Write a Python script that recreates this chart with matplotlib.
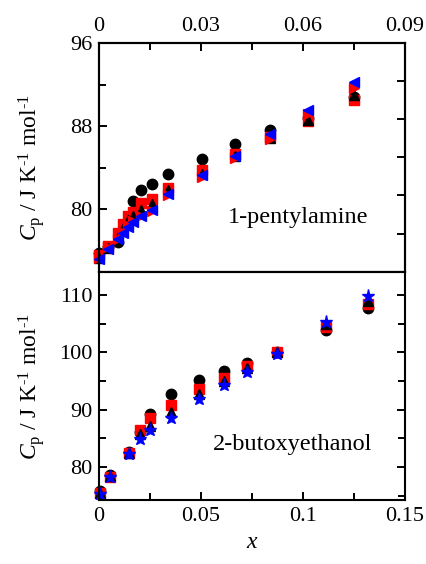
import matplotlib
matplotlib.use("Agg")
import matplotlib.pyplot as plt
from matplotlib.ticker import MultipleLocator, NullFormatter

# 1-pentylamine (top panel)
x_amine = [0, 0.0027, 0.0055, 0.0070, 0.0085, 0.0099, 0.0123, 0.0155, 0.0202,
           0.0304, 0.0401, 0.0503, 0.0615, 0.0751]
x_amine_circ = [0, 0.0027, 0.0055, 0.0099, 0.0123, 0.0155, 0.0202,
                0.0304, 0.0401, 0.0503, 0.0615, 0.0751]
cp_amine_circ = [75.7, 76.3, 76.8, 80.8, 81.8, 82.4, 83.4,
                 84.85, 86.3, 87.6, 88.8, 90.8]
cp_amine_sq = [75.5, 76.4, 77.7, 78.5, 79.3, 79.75, 80.55, 81.0, 82.0,
               83.8, 85.3, 87.0, 88.5, 90.5]
cp_amine_tri = [75.3, 76.2, 77.3, 78.2, 78.9, 79.3, 79.9, 80.5, 81.8,
                83.4, 85.1, 86.9, 88.6, 91.0]
cp_amine_right = [75.3, 76.3, 77.1, 77.8, 78.4, 78.8, 79.3, 79.8, 81.3,
                  83.1, 84.9, 86.8, 89.2, 91.7]
cp_amine_left = [75.2, 76.1, 77.1, 77.7, 78.3, 78.7, 79.3, 79.9, 81.4,
                 83.3, 85.1, 87.2, 89.6, 92.3]

# 2-butoxyethanol (bottom panel)
x_bute = [0.0005, 0.0054, 0.0149, 0.0202, 0.0251, 0.0354, 0.0492, 0.0615,
          0.0727, 0.0871, 0.1113, 0.1320]
cp_bute_circ = [75.8, 78.7, 82.6, 86.1, 89.3, 92.8, 95.25, 96.7, 98.15, 100.0, 103.9, 107.8]
cp_bute_sq = [75.5, 78.3, 82.4, 86.4, 88.5, 90.75, 93.7, 95.6, 97.6, 100.0, 104.4, 108.4]
cp_bute_tri = [75.5, 78.4, 82.4, 85.8, 87.25, 89.6, 92.7, 95.1, 97.3, 100.0, 104.9, 109.0]
cp_bute_star = [75.3, 78.3, 82.3, 84.9, 86.5, 88.6, 91.9, 94.4, 96.6, 99.8, 105.3, 109.8]

plt.rcParams["font.family"] = "Liberation Serif"
plt.rcParams["mathtext.fontset"] = "custom"
plt.rcParams["mathtext.rm"] = "Liberation Serif"
plt.rcParams["mathtext.it"] = "Liberation Serif:italic"
plt.rcParams["font.size"] = 16

fig = plt.figure(figsize=(4.27, 5.64), dpi=100)
ax1 = fig.add_axes([0.232, 0.5177, 0.716, 0.4053])
ax2 = fig.add_axes([0.232, 0.1126, 0.716, 0.4051])

ms = 7.5
kw = dict(linestyle="none", clip_on=False)
ax1.plot(x_amine_circ, cp_amine_circ, marker="o", color="black", markersize=ms, **kw)
ax1.plot(x_amine, cp_amine_sq, marker="s", color="red", markersize=ms, **kw)
ax1.plot(x_amine, cp_amine_tri, marker="^", color="black", markersize=ms - 1, **kw)
ax1.plot(x_amine, cp_amine_right, marker=">", color="red", markersize=ms, **kw)
ax1.plot(x_amine, cp_amine_left, marker="<", color="blue", markersize=ms, **kw)

ax2.plot(x_bute, cp_bute_circ, marker="o", color="black", markersize=ms, **kw)
ax2.plot(x_bute, cp_bute_sq, marker="s", color="red", markersize=ms, **kw)
ax2.plot(x_bute, cp_bute_tri, marker="^", color="black", markersize=ms, **kw)
ax2.plot(x_bute, cp_bute_star, marker="*", color="blue", markersize=ms + 2, **kw)

ylabel = r"$C_\mathrm{p}$ / J K$^{\text{-1}}$ mol$^{\text{-1}}$"

for ax in (ax1, ax2):
    for sp in ax.spines.values():
        sp.set_linewidth(1.5)
    ax.tick_params(which="both", direction="in", width=1.4, pad=5)
    ax.tick_params(which="major", length=6)
    ax.tick_params(which="minor", length=5)

# top panel
ax1.set_xlim(0, 0.09)
ax1.set_ylim(73.9, 96)
ax1.xaxis.set_major_locator(MultipleLocator(0.03))
ax1.xaxis.set_minor_locator(MultipleLocator(0.015))
ax1.xaxis.set_major_formatter(lambda v, p: "0" if v == 0 else f"{v:.2f}")
ax1.yaxis.set_major_locator(MultipleLocator(8))
ax1.yaxis.set_minor_locator(MultipleLocator(4))
ax1.tick_params(which="both", top=True, bottom=False, labeltop=True,
                labelbottom=False, left=True, right=False)
ax1.text(0.65, 0.24, "1-pentylamine", transform=ax1.transAxes,
         fontsize=17.5, ha="center", va="center")
ax1.set_ylabel(ylabel, fontsize=17)
ax1.yaxis.set_label_coords(-0.17, 0.46)

ax1r = ax1.twinx()
ax1r.set_ylim(0, 5.97)
ax1r.set_yticks([1, 2, 3, 4, 5])
ax1r.yaxis.set_major_formatter(NullFormatter())
ax1r.tick_params(direction="in", length=6, width=1.4, right=True)
for sp in ax1r.spines.values():
    sp.set_linewidth(1.5)

# bottom panel
ax2.set_xlim(0, 0.15)
ax2.set_ylim(74.2, 114)
ax2.xaxis.set_major_locator(MultipleLocator(0.05))
ax2.xaxis.set_minor_locator(MultipleLocator(0.025))
ax2.xaxis.set_major_formatter(lambda v, p: "0" if v == 0 else f"{v:g}")
ax2.yaxis.set_major_locator(MultipleLocator(10))
ax2.yaxis.set_minor_locator(MultipleLocator(5))
ax2.tick_params(which="both", top=False, bottom=True, left=True, right=True)
ax2.text(0.632, 0.243, "2-butoxyethanol", transform=ax2.transAxes,
         fontsize=17.5, ha="center", va="center")
ax2.set_ylabel(ylabel, fontsize=17)
ax2.yaxis.set_label_coords(-0.17, 0.5)
ax2.set_xlabel(r"$x$", fontsize=17, labelpad=4)

fig.savefig("out.png", dpi=100)
